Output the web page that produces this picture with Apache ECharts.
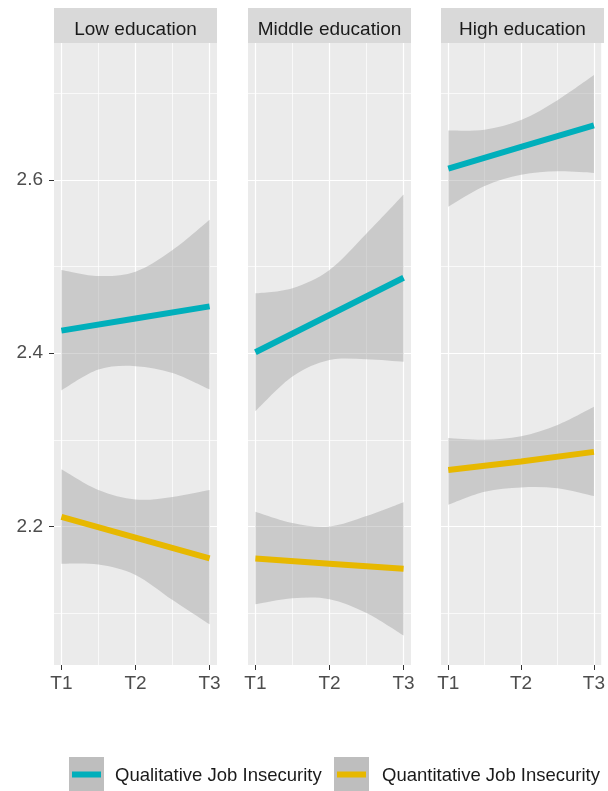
<!DOCTYPE html>
<html>
<head>
<meta charset="utf-8">
<script src="https://cdn.jsdelivr.net/npm/echarts@6/dist/echarts.min.js"></script>
<style>
  html, body { margin: 0; padding: 0; background: #ffffff; }
  #chart { width: 608px; height: 791px; }
</style>
</head>
<body>
<div id="chart"></div>
<script>
// ---- data ----
const panels = ['Low education', 'Middle education', 'High education'];
const seriesNames = ['Qualitative Job Insecurity', 'Quantitative Job Insecurity'];
const timeLabels = ['T1', 'T2', 'T3'];
const timeValues = [1, 2, 3];
const yTickValues = [2.2, 2.4, 2.6];

// fitted lines at T1, T2, T3
const qualLow = [2.426, 2.440, 2.454];
const qualMiddle = [2.401, 2.444, 2.487];
const qualHigh = [2.613, 2.638, 2.663];
const quantLow = [2.211, 2.187, 2.163];
const quantMiddle = [2.163, 2.157, 2.151];
const quantHigh = [2.265, 2.275, 2.286];

// confidence bands sampled at these time positions
const bandX = [1, 1.5, 2, 2.5, 3];
const qualLowUpper = [2.496, 2.489, 2.494, 2.519, 2.554];
const qualLowLower = [2.357, 2.381, 2.385, 2.377, 2.358];
const qualMiddleUpper = [2.469, 2.475, 2.496, 2.538, 2.583];
const qualMiddleLower = [2.333, 2.373, 2.392, 2.393, 2.390];
const qualHighUpper = [2.657, 2.658, 2.669, 2.692, 2.721];
const qualHighLower = [2.569, 2.593, 2.606, 2.610, 2.608];
const quantLowUpper = [2.266, 2.242, 2.231, 2.234, 2.242];
const quantLowLower = [2.157, 2.156, 2.144, 2.115, 2.087];
const quantMiddleUpper = [2.217, 2.204, 2.200, 2.212, 2.228];
const quantMiddleLower = [2.110, 2.117, 2.116, 2.100, 2.074];
const quantHighUpper = [2.302, 2.300, 2.304, 2.317, 2.338];
const quantHighLower = [2.225, 2.240, 2.245, 2.244, 2.235];

// ---- layout & style ----
const colors = ['#00AFBB', '#E7B800'];
const bandFill = 'rgba(153,153,153,0.4)';
const FONT = '"Liberation Sans", Arial, sans-serif';
const FONT_SIZE = 19;
const LEGEND_FONT_SIZE = 18.5;
const gridLefts = [54, 248, 441];
const gridWidth = 163;
const gridTop = 43;
const gridHeight = 622;
const stripHeight = 35;
const yMin = 2.040, yMax = 2.758;
const xMin = 0.9, xMax = 3.1;
const xGridMajor = [1, 2, 3], xGridMinor = [1.5, 2.5];
const yGridMajor = [2.2, 2.4, 2.6], yGridMinor = [2.1, 2.3, 2.5, 2.7];

const panelLines = [
  [qualLow, quantLow],
  [qualMiddle, quantMiddle],
  [qualHigh, quantHigh]
];
const panelBands = [
  [[qualLowLower, qualLowUpper], [quantLowLower, quantLowUpper]],
  [[qualMiddleLower, qualMiddleUpper], [quantMiddleLower, quantMiddleUpper]],
  [[qualHighLower, qualHighUpper], [quantHighLower, quantHighUpper]]
];

// Catmull-Rom spline through pixel points, as cubic Bezier path commands
function splinePath(pts, moveFirst) {
  let d = (moveFirst ? 'M' : 'L') + pts[0][0] + ',' + pts[0][1];
  for (let i = 0; i < pts.length - 1; i++) {
    const p0 = pts[Math.max(i - 1, 0)];
    const p1 = pts[i];
    const p2 = pts[i + 1];
    const p3 = pts[Math.min(i + 2, pts.length - 1)];
    const c1x = p1[0] + (p2[0] - p0[0]) / 6, c1y = p1[1] + (p2[1] - p0[1]) / 6;
    const c2x = p2[0] - (p3[0] - p1[0]) / 6, c2y = p2[1] - (p3[1] - p1[1]) / 6;
    d += 'C' + c1x + ',' + c1y + ' ' + c2x + ',' + c2y + ' ' + p2[0] + ',' + p2[1];
  }
  return d;
}

const grids = [], xAxes = [], yAxes = [], series = [], graphics = [];

panels.forEach(function (title, p) {
  grids.push({
    left: gridLefts[p], top: gridTop, width: gridWidth, height: gridHeight,
    show: true, backgroundColor: '#EBEBEB', borderWidth: 0
  });
  xAxes.push({
    type: 'value', gridIndex: p, min: xMin, max: xMax,
    axisLine: { show: false },
    splitLine: { show: false },
    axisTick: { show: true, customValues: timeValues, length: 5, lineStyle: { color: '#333333', width: 1 } },
    axisLabel: {
      customValues: timeValues, margin: 9,
      color: '#4D4D4D', fontFamily: FONT, fontSize: FONT_SIZE,
      formatter: function (v) { return timeLabels[timeValues.indexOf(v)]; }
    }
  });
  yAxes.push({
    type: 'value', gridIndex: p, min: yMin, max: yMax,
    axisLine: { show: false },
    splitLine: { show: false },
    axisTick: { show: p === 0, customValues: yTickValues, length: 5, lineStyle: { color: '#333333', width: 1 } },
    axisLabel: {
      show: p === 0, customValues: yTickValues, margin: 11,
      color: '#4D4D4D', fontFamily: FONT, fontSize: FONT_SIZE,
      formatter: function (v) { return v.toFixed(1); }
    }
  });

  // panel grid lines (kept beneath the bands)
  const gl = [];
  xGridMinor.forEach(function (v) { gl.push({ xAxis: v, lineStyle: { color: '#ffffff', width: 0.7, type: 'solid' } }); });
  yGridMinor.forEach(function (v) { gl.push({ yAxis: v, lineStyle: { color: '#ffffff', width: 0.7, type: 'solid' } }); });
  xGridMajor.forEach(function (v) { gl.push({ xAxis: v, lineStyle: { color: '#ffffff', width: 1.2, type: 'solid' } }); });
  yGridMajor.forEach(function (v) { gl.push({ yAxis: v, lineStyle: { color: '#ffffff', width: 1.2, type: 'solid' } }); });
  series.push({
    type: 'line', xAxisIndex: p, yAxisIndex: p, data: [], z: 0, silent: true,
    markLine: { z: 0, zlevel: 0, silent: true, symbol: ['none', 'none'], label: { show: false }, animation: false, data: gl }
  });

  // confidence bands
  panelBands[p].forEach(function (band) {
    const lower = band[0], upper = band[1];
    series.push({
      type: 'custom', xAxisIndex: p, yAxisIndex: p, z: 2, silent: true, clip: false,
      data: bandX.map(function (x, i) { return [x, lower[i], upper[i]]; }),
      encode: { x: 0, y: [1, 2] },
      renderItem: function (params, api) {
        if (params.dataIndex !== 0) return null;
        const up = bandX.map(function (x, i) { return api.coord([x, upper[i]]); });
        const lo = bandX.map(function (x, i) { return api.coord([x, lower[i]]); }).reverse();
        const d = splinePath(up, true) + splinePath(lo, false) + 'Z';
        return { type: 'path', shape: { pathData: d }, style: { fill: bandFill, stroke: null } };
      }
    });
  });

  // fitted lines
  panelLines[p].forEach(function (vals, s) {
    series.push({
      name: seriesNames[s], type: 'line', xAxisIndex: p, yAxisIndex: p, z: 3,
      data: timeValues.map(function (t, i) { return [t, vals[i]]; }),
      showSymbol: false, symbol: 'none',
      lineStyle: { color: colors[s], width: 6, cap: 'butt' },
      itemStyle: { color: colors[s] }
    });
  });

  // facet strip
  graphics.push({
    type: 'rect', left: gridLefts[p], top: gridTop - stripHeight,
    shape: { width: gridWidth, height: stripHeight },
    style: { fill: '#D9D9D9' }, silent: true
  });
  graphics.push({
    type: 'text', x: gridLefts[p] + gridWidth / 2, y: 30,
    style: { text: title, fill: '#1A1A1A', font: FONT_SIZE + 'px ' + FONT, textAlign: 'center', textVerticalAlign: 'middle' },
    silent: true
  });
});

// legend (key box with ribbon fill and a line sample, then the label)
const legendKeyX = [69, 334];
const legendTextX = [115, 382];
seriesNames.forEach(function (name, s) {
  graphics.push({
    type: 'rect', x: legendKeyX[s], y: 757, shape: { width: 35, height: 35 },
    style: { fill: '#BEBEBE' }, silent: true
  });
  graphics.push({
    type: 'rect', x: legendKeyX[s] + 3, y: 771.5, shape: { width: 29, height: 6 },
    style: { fill: colors[s] }, silent: true
  });
  graphics.push({
    type: 'text', x: legendTextX[s], y: 776,
    style: { text: name, fill: '#1A1A1A', font: LEGEND_FONT_SIZE + 'px ' + FONT, textAlign: 'left', textVerticalAlign: 'middle' },
    silent: true
  });
});

const chart = echarts.init(document.getElementById('chart'), null, { renderer: 'canvas' });
chart.setOption({
  animation: false,
  backgroundColor: '#ffffff',
  grid: grids,
  xAxis: xAxes,
  yAxis: yAxes,
  series: series,
  graphic: graphics
});
</script>
</body>
</html>
